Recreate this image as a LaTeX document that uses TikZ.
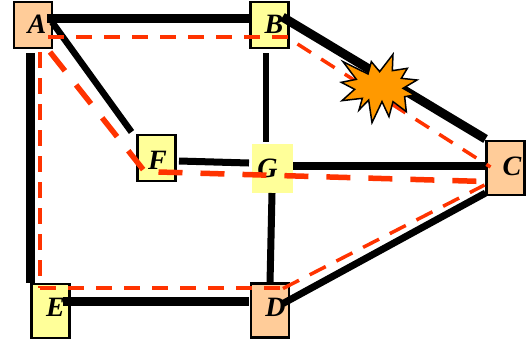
\documentclass[tikz,border=0pt]{standalone}
\usepackage{fontspec}
\setmainfont{Liberation Serif}
\definecolor{boxorange}{HTML}{FFCC99}
\definecolor{boxyellow}{HTML}{FFFF99}
\definecolor{burst}{HTML}{FF9900}
\definecolor{redpath}{HTML}{FF3300}
\tikzset{
  router/.style={draw=black,line width=2.4pt,minimum width=38pt,inner sep=0pt,outer sep=0pt},
  lab/.style={font=\fontsize{28}{28}\selectfont\bfseries\itshape,inner sep=0pt},
  link/.style={draw=black,line cap=butt},
  thinpath/.style={draw=redpath,line width=3.5pt,dash pattern=on 16pt off 12pt},
  fatpath/.style={draw=redpath,line width=5.5pt,dash pattern=on 24pt off 18pt},
}
\begin{document}
\begin{tikzpicture}[x=1pt,y=-1pt]
\useasboundingbox (0,0) rectangle (526,349);
% boxes
\node[router,fill=boxorange,minimum height=46pt,label={[lab,xshift=4pt,yshift=1pt]center:A}] (A) at (33,25) {};
\node[router,fill=boxyellow,minimum height=46pt,label={[lab,xshift=4.5pt,yshift=1pt]center:B}] (B) at (269.5,25) {};
\node[router,fill=boxorange,minimum height=54pt,label={[lab,xshift=6.5pt,yshift=2pt]center:C}] (C) at (505.5,168) {};
\node[router,fill=boxorange,minimum height=54pt,label={[lab,xshift=5.5pt,yshift=3pt]center:D}] (D) at (270,310.5) {};
\node[router,fill=boxyellow,minimum height=54pt,label={[lab,xshift=5pt,yshift=3.5pt]center:E}] (E) at (50.5,311) {};
\node[router,fill=boxyellow,minimum height=46pt,label={[lab,xshift=1pt,yshift=-2.5pt]center:F}] (F) at (156.5,158) {};
\node[fill=boxyellow,minimum width=41pt,minimum height=49pt,inner sep=0pt,outer sep=0pt,label={[lab,xshift=-5pt,yshift=0pt]center:G}] (G) at (272.5,168.5) {};
% links
\draw[link,line width=9pt] ([shift={(14,-7)}]A.center) -- ([shift={(-20.5,-7)}]B.center);
\draw[link,line width=6.5pt] ([shift={(19,-3)}]A.center) -- ([shift={(-25,-26)}]F.center);
\draw[link,line width=9pt] ([shift={(-3,28)}]A.center) -- ([shift={(-20.5,-28)}]E.center);
\draw[link,line width=6pt] ([shift={(-3.5,28)}]B.center) -- ([shift={(-6.5,-27)}]G.center);
\draw[link,line width=7pt] ([shift={(22.5,3)}]F.center) -- ([shift={(-23.5,-5.5)}]G.center);
\draw[link,line width=8pt] ([shift={(20.5,-2.5)}]G.center) -- ([shift={(-20.5,-2)}]C.center);
\draw[link,line width=7pt] ([shift={(-0.5,24.5)}]G.center) -- ([shift={(0,-27.5)}]D.center);
\draw[link,line width=9pt] ([shift={(12.5,-10)}]E.center) -- ([shift={(-21,-9.5)}]D.center);
\draw[link,line width=9pt] ([shift={(13,-8)}]B.center) -- ([shift={(-20,-29)}]C.center);
\draw[link,line width=7pt] ([shift={(13,-7)}]D.center) -- ([shift={(-20,25)}]C.center);
% red paths
\draw[thinpath] ([shift={(15,12)}]A.center) -- ([shift={(20,12)}]B.center);
\draw[thinpath] ([shift={(28,19)}]B.center) -- ([shift={(-15,-1)}]C.center);
\draw[thinpath,line width=4pt,dash pattern=on 16pt off 10pt] ([shift={(7,27)}]A.center) -- ([shift={(-10.5,-23)}]E.center);
\draw[thinpath] ([shift={(-10.5,-23)}]E.center) -- ([shift={(20,-22.5)}]D.center);
\draw[thinpath,dash pattern=on 18pt off 12pt] ([shift={(13,-22)}]D.center) -- ([shift={(-21,17)}]C.center);
\draw[fatpath] ([shift={(17,27)}]A.center) -- ([shift={(-13,12)}]F.center);
\draw[fatpath] ([shift={(2,14)}]F.center) -- ([shift={(-21,13.5)}]C.center);
% burst
\begin{scope}[shift={(263,0)},x=0.3333pt,y=-0.3333pt]
\draw[line width=1.5pt,fill=burst,line join=miter,miter limit=10]
 (325,185)--(350,215)--(390,163)--(388,212)--(433,205)--(415,235)--(462,240)--(420,265)--(455,285)--(425,290)--(430,335)--(390,305)--(378,350)--(357,305)--(327,368)--(317,300)--(288,330)--(298,295)--(237,302)--(275,268)--(235,247)--(280,238)--(240,185)--(315,222)--cycle;
\end{scope}
\end{tikzpicture}
\end{document}
